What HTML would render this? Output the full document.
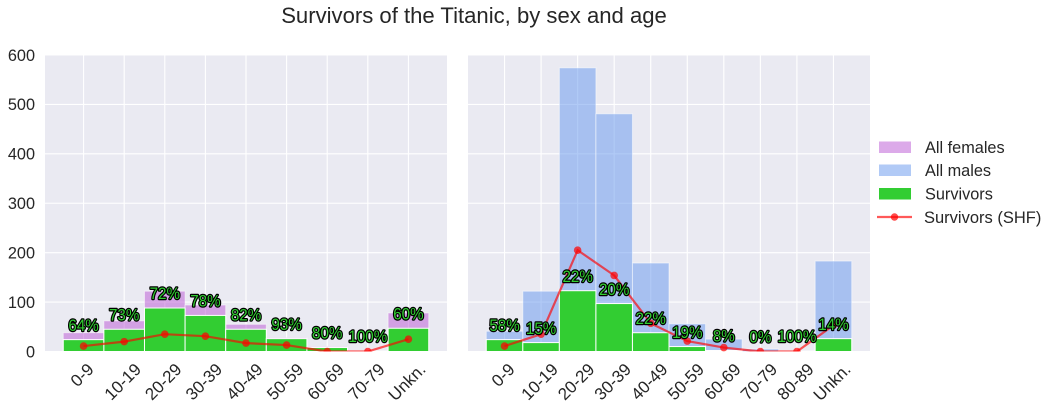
<!DOCTYPE html>
<html>
<head>
<meta charset="utf-8">
<title>Survivors of the Titanic, by sex and age</title>
<style>
html,body{margin:0;padding:0;background:#fff;width:1055px;height:409px;overflow:hidden}
svg{display:block;font-family:"Liberation Sans",Arial,sans-serif}
.tick{font-size:16.3px;fill:#262626}
.xtick{font-size:17px;fill:#262626}
.pct{font-size:16.5px;fill:#32cd32;stroke:#000;stroke-width:2.5px;paint-order:stroke;stroke-linejoin:round;text-anchor:middle}
</style>
</head>
<body>
<svg id="chart" width="1055" height="409" viewBox="0 0 1055 409" xmlns="http://www.w3.org/2000/svg">
  <text x="474" y="23" text-anchor="middle" font-size="22.1" fill="#262626">Survivors of the Titanic, by sex and age</text>
  <g id="panels"></g>
  <g>
    <rect x="879" y="141.5" width="32" height="11.5" fill="#ba55d3" fill-opacity="0.5"></rect>
    <text x="925" y="153" class="tick">All females</text>
    <rect x="879" y="164.5" width="32" height="11.5" fill="#6495ed" fill-opacity="0.5"></rect>
    <text x="925" y="176" class="tick">All males</text>
    <rect x="879" y="188" width="32" height="11.5" fill="#32cd32"></rect>
    <text x="925" y="199.5" class="tick">Survivors</text>
    <line x1="877" y1="217" x2="912" y2="217" stroke="#ff0000" stroke-opacity="0.65" stroke-width="2.2"></line>
    <circle cx="894.5" cy="217" r="3.7" fill="#ff0000" fill-opacity="0.7"></circle>
    <text x="924" y="223" font-size="16.5" fill="#262626">Survivors (SHF)</text>
  </g>
</svg>
<script>
const femaleCategories = ['0-9','10-19','20-29','30-39','40-49','50-59','60-69','70-79','Unkn.'];
const femaleTotals = [38,62,122,94,55,28,10,1,78];
const femaleSurvivors = [24,45,88,73,45,26,8,1,47];
const femaleShf = [11,20,35,31,17,13,0,0,25];
const femalePct = ['64%','73%','72%','78%','82%','93%','80%','100%','60%'];

const maleCategories = ['0-9','10-19','20-29','30-39','40-49','50-59','60-69','70-79','80-89','Unkn.'];
const maleTotals = [41,122,574,481,179,56,25,5,1,183];
const maleSurvivors = [24,18,123,97,38,10,2,0,1,26];
const maleShf = [11,35,205,154,57,21,8,0,0,53];
const malePct = ['58%','15%','22%','20%','22%','19%','8%','0%','100%','14%'];

const yTicks = [0,100,200,300,400,500,600];

const NS = 'http://www.w3.org/2000/svg';
const panelsRoot = document.getElementById('panels');
const plotTop = 55, plotBottom = 351.5, yMax = 600;

function yScale(v){ return plotBottom - (v / yMax) * (plotBottom - plotTop); }

function make(parent, tag, attrs){
  const el = document.createElementNS(NS, tag);
  for (const k in attrs) el.setAttribute(k, attrs[k]);
  parent.appendChild(el);
  return el;
}

function drawPanel(left, right, cats, totals, survivors, shf, pct, totalColor, showY, prefix){
  const g = make(panelsRoot, 'g', {});
  
  
  const n = cats.length;
  const band = (right - left) / (n * 1.1);
  const xCenter = i => left + n * band * 0.05 + band * (i + 0.5);

  const clip = make(g, 'clipPath', {id: prefix + '-clip'});
  make(clip, 'rect', {x:left, y:plotTop, width:right-left, height:plotBottom-plotTop});

  const bg = make(g, 'rect', {x:left, y:plotTop, width:right-left, height:plotBottom-plotTop, fill:'#eaeaf2'});
  
  

  yTicks.forEach(t => {
    const line = make(g, 'line', {x1:left, x2:right, y1:yScale(t), y2:yScale(t), stroke:'#fff', 'stroke-width':1.1});
    
    
    if (showY) {
      const lab = make(g, 'text', {x:35, y:yScale(t)+5.8, 'text-anchor':'end', class:'tick'});
      lab.textContent = t;
      
      
    }
  });

  cats.forEach((c, i) => {
    const line = make(g, 'line', {x1:xCenter(i), x2:xCenter(i), y1:plotTop, y2:plotBottom, stroke:'#fff', 'stroke-width':1.1});
    
    
  });

  cats.forEach((c, i) => {
    const bar = make(g, 'rect', {x:xCenter(i)-band/2, y:yScale(totals[i]), width:band, height:plotBottom-yScale(totals[i]), fill:totalColor, 'fill-opacity':0.5, stroke:'#fff', 'stroke-opacity':0.5, 'stroke-width':1});
    
    
  });

  cats.forEach((c, i) => {
    if (survivors[i] <= 0) return;
    const bar = make(g, 'rect', {x:xCenter(i)-band/2, y:yScale(survivors[i]), width:band, height:plotBottom-yScale(survivors[i]), fill:'#32cd32', stroke:'#fff', 'stroke-width':1});
    
    
  });

  const pts = shf.map((v, i) => xCenter(i) + ',' + yScale(v)).join(' ');
  const poly = make(g, 'polyline', {points:pts, fill:'none', stroke:'#ff0000', 'stroke-opacity':0.65, 'stroke-width':2.2, 'clip-path':'url(#' + prefix + '-clip)'});
  
  

  shf.forEach((v, i) => {
    const dot = make(g, 'circle', {cx:xCenter(i), cy:yScale(v), r:3.8, fill:'#ff0000', 'fill-opacity':0.7, 'clip-path':'url(#' + prefix + '-clip)'});
    
    
  });

  pct.forEach((p, i) => {
    const px = xCenter(i);
    const py = yScale(survivors[i]) - 14.7 + 5.9;
    const t = make(g, 'text', {x:0, y:0, class:'pct', transform:'translate(' + px + ' ' + py + ') scale(0.92 1)'});
    t.textContent = p;
    
    
  });

  cats.forEach((c, i) => {
    const t = make(g, 'text', {class:'xtick', 'text-anchor':'middle'});
    t.textContent = c;
    
    
    const w = t.getComputedTextLength();
    const cy = 361 + (w + 15) * 0.354;
    const cx = xCenter(i) - 1.5;
    t.setAttribute('x', cx);
    t.setAttribute('y', cy + 5.8);
    t.setAttribute('transform', 'rotate(-45 ' + cx + ' ' + cy + ')');
  });
}

drawPanel(45, 447, femaleCategories, femaleTotals, femaleSurvivors, femaleShf, femalePct, '#ba55d3', true, 'female');
drawPanel(468, 870, maleCategories, maleTotals, maleSurvivors, maleShf, malePct, '#6495ed', false, 'male');
</script>
</body>
</html>
